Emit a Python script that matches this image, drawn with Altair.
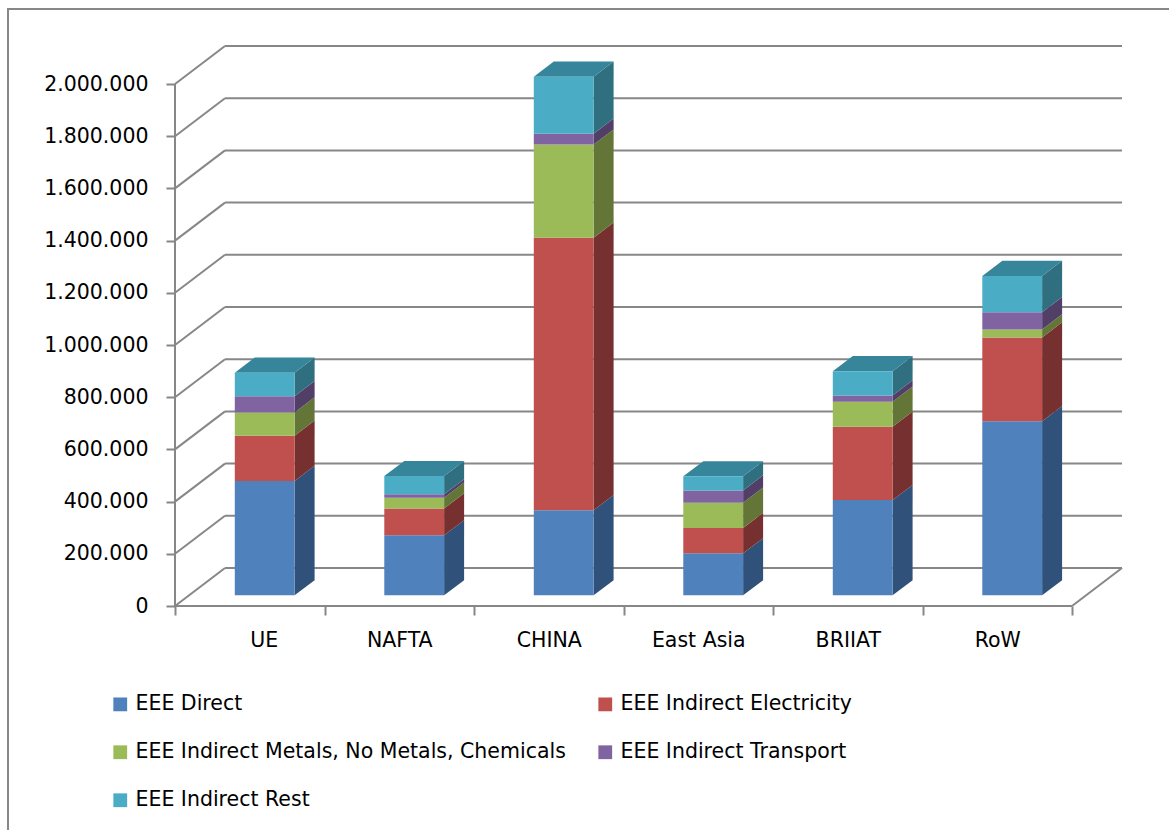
import json
import altair as alt
import pandas as pd

# ---------------- data ----------------
categories = ["UE", "NAFTA", "CHINA", "East Asia", "BRIIAT", "RoW"]
series = [
    "EEE Direct",
    "EEE Indirect Electricity",
    "EEE Indirect Metals, No Metals, Chemicals",
    "EEE Indirect Transport",
    "EEE Indirect Rest",
]
direct = [438000, 230000, 326000, 161000, 365000, 667000]
electricity = [174000, 103000, 1044000, 97000, 281000, 321000]
metals = [89000, 41000, 357000, 97000, 96000, 31000]
transport = [62000, 13000, 42000, 47000, 24000, 66000]
rest = [90000, 70000, 218000, 54000, 93000, 139000]
y_ticks = [0, 200000, 400000, 600000, 800000, 1000000, 1200000, 1400000, 1600000, 1800000, 2000000]

front_colors = ["#4F81BD", "#C0504D", "#9BBB59", "#8064A2", "#4BACC6"]
side_colors = ["#30527A", "#76302F", "#637637", "#523F68", "#306F80"]
top_color = "#37859A"
line_color = "#878787"
FONT = "DejaVu Sans"
FS = 20.5

# legend is laid out column by column: order entries so rows read like the original
legend_order = [0, 2, 4, 1, 3]
legend_domain = [series[k] for k in legend_order]
legend_range = [front_colors[k] for k in legend_order]

# ---------------- 3D geometry (in data units) ----------------
DX = 50 / 149.5          # floor depth, horizontal (category units)
DY = 145600              # floor depth, vertical (value units)
BAR_L, BAR_R = 0.4, 0.8  # bar front face inside category
B0 = 0.28 * DY           # lift of bar front face (depth position)
SDX, SDY = 0.4 * DX, 0.4 * DY  # bar depth
N = len(categories)
X_MAX = N + DX
Y_MAX = max(y_ticks) + DY

values = [direct, electricity, metals, transport, rest]
front_rows, side_rows, top_rows = [], [], []
for i, cat in enumerate(categories):
    lo = 0
    for s, name in enumerate(series):
        hi = lo + values[s][i]
        x0, x1 = i + BAR_L, i + BAR_R
        front_rows.append(dict(cat=cat, series=name, x=x0, x2=x1, y=lo + B0, y2=hi + B0))
        key = f"{cat}|{name}"
        side_rows.append(dict(key=key, col=side_colors[s], x=x1, y=lo + B0, y2=hi + B0))
        side_rows.append(dict(key=key, col=side_colors[s], x=x1 + SDX, y=lo + B0 + SDY, y2=hi + B0 + SDY))
        lo = hi
    top_rows.append(dict(cat=cat, y=lo + B0, x=i + BAR_L, x2=i + BAR_R))
    top_rows.append(dict(cat=cat, y=lo + B0 + SDY, x=i + BAR_L + SDX, x2=i + BAR_R + SDX))

front_df = pd.DataFrame(front_rows)
side_df = pd.DataFrame(side_rows)
top_df = pd.DataFrame(top_rows)

# wall / floor lines
lines = []
for v in y_ticks:
    lines.append(dict(x=DX, x2=N + DX, y=v + DY, y2=v + DY))     # back wall gridline
    lines.append(dict(x=0, x2=DX, y=v, y2=v + DY))               # side wall diagonal
lines.append(dict(x=0, x2=N, y=0, y2=0))                         # floor front edge
lines.append(dict(x=N, x2=N + DX, y=0, y2=DY))                   # floor right edge
lines.append(dict(x=0, x2=0, y=0, y2=max(y_ticks)))              # front value axis
lines_df = pd.DataFrame(lines)

xs = alt.Scale(domain=[0, X_MAX], nice=False, zero=False)
ys = alt.Scale(domain=[0, Y_MAX], nice=False, zero=False)

cat_expr = json.dumps(categories)
x_axis = alt.Axis(
    values=list(range(N + 1)),
    labelExpr=f"datum.value < {N} ? {cat_expr}[datum.value] : ''",
    labelOffset=149.5 / 2,
    domain=False, grid=False, ticks=True, tickSize=9, tickWidth=2, tickColor=line_color,
    labelFont=FONT, labelFontSize=FS, labelColor="#000000", labelPadding=15,
    labelOverlap=False, title=None,
)
y_axis = alt.Axis(
    values=y_ticks,
    labelExpr="replace(format(datum.value, ','), regexp(',', 'g'), '.')",
    domain=False, grid=False, ticks=True, tickSize=9, tickWidth=2, tickColor=line_color,
    labelFont=FONT, labelFontSize=FS, labelColor="#000000", labelPadding=18,
    labelOverlap=False, title=None,
)

X = lambda f: alt.X(f, scale=xs, axis=x_axis)
Y = lambda f: alt.Y(f, scale=ys, axis=y_axis, stack=None)

frame = alt.Chart(pd.DataFrame({"a": [0]})).mark_rect(
    fill=None, stroke=line_color, strokeWidth=2, clip=False
).encode(
    x=alt.value(-167), x2=alt.value(1100), y=alt.value(-37), y2=alt.value(900)
)

wall = alt.Chart(lines_df).mark_rule(color=line_color, strokeWidth=2).encode(
    x=X("x:Q"), x2="x2:Q", y=Y("y:Q"), y2="y2:Q",
)

side = alt.Chart(side_df).mark_area(orient="vertical").encode(
    x=X("x:Q"), y=Y("y:Q"), y2="y2:Q",
    detail="key:N",
    color=alt.Color("col:N", scale=None),
)

top = alt.Chart(top_df).mark_area(orient="horizontal", color=top_color).encode(
    y=Y("y:Q"), x=X("x:Q"), x2="x2:Q",
    detail="cat:N",
)

front = alt.Chart(front_df).mark_rect().encode(
    x=X("x:Q"), x2="x2:Q", y=Y("y:Q"), y2="y2:Q",
    color=alt.Color(
        "series:N",
        scale=alt.Scale(domain=legend_domain, range=legend_range),
        legend=alt.Legend(
            title=None, orient="none", legendX=-65, legendY=648, columns=2,
            symbolType="square", symbolSize=190, symbolStrokeWidth=0, symbolOpacity=1,
            labelFont=FONT, labelFontSize=FS, labelColor="#000000", labelLimit=700,
            labelOffset=5, rowPadding=27, columnPadding=29, padding=0,
        ),
    ),
)

chart = alt.layer(frame, wall, side, top, front).properties(
    width=947, height=560,
    autosize=alt.AutoSizeParams(type="none"),
    padding={"left": 175, "top": 46, "right": 47, "bottom": 224},
    background="#ffffff",
).configure_view(stroke=None)

chart.save("out.html", embed_options={"renderer": "svg", "actions": False})
